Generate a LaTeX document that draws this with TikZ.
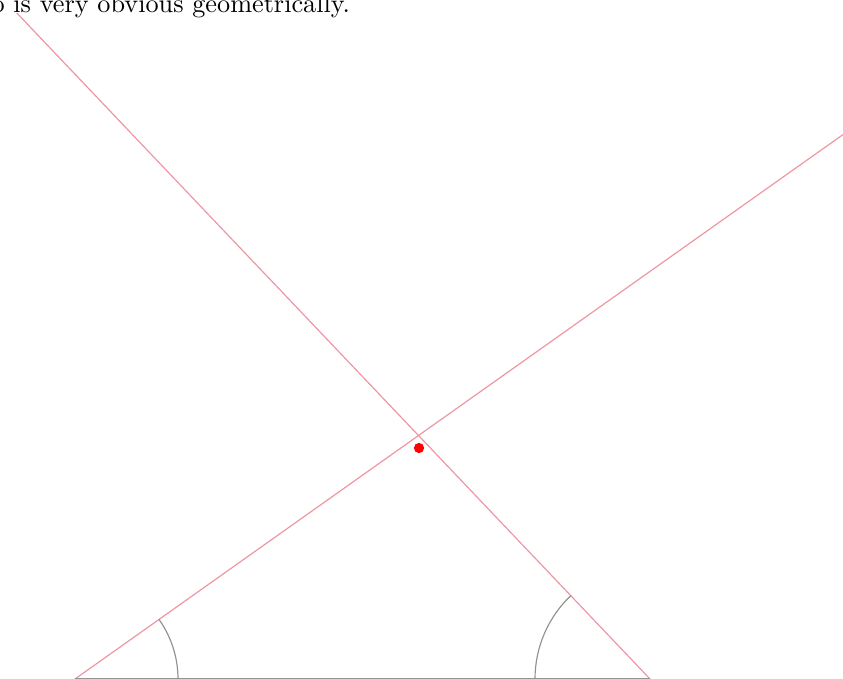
\documentclass[tikz,border=0pt]{standalone}
\usetikzlibrary{calc}
\begin{document}
\begin{tikzpicture}[x=0.381pt,y=-0.381pt,
  redline/.style={draw={rgb,255:red,236;green,150;blue,162},line width=0.45pt},
  greyline/.style={draw=gray!85,line width=0.45pt},
  dotmark/.style={circle,fill=red,inner sep=0pt,minimum size=3.9pt}]
\useasboundingbox (0,0) rectangle (843,679);
\node[anchor=base west,inner sep=0pt] (txt) at (-9,12) {o is very obvious geometrically.};
\coordinate (A) at (75,679);
\coordinate (B) at (650,679);
\coordinate (P) at (418.5,435.5);
\path (A) -- (P) coordinate[pos=2.236] (E1);
\path (B) -- (P) coordinate[pos=2.735] (E2);
\draw[redline] (A) -- (E1);
\draw[redline] (B) -- (E2);
\draw[greyline] (A) -- (B);
\draw[greyline] ($(A)+(103,0)$) arc[start angle=0,end angle=-35.3,radius=103];
\draw[greyline] ($(B)+(-115,0)$) arc[start angle=180,end angle=226.6,radius=115];
\node[dotmark] (dot) at (419,448) {};
\end{tikzpicture}
\end{document}
